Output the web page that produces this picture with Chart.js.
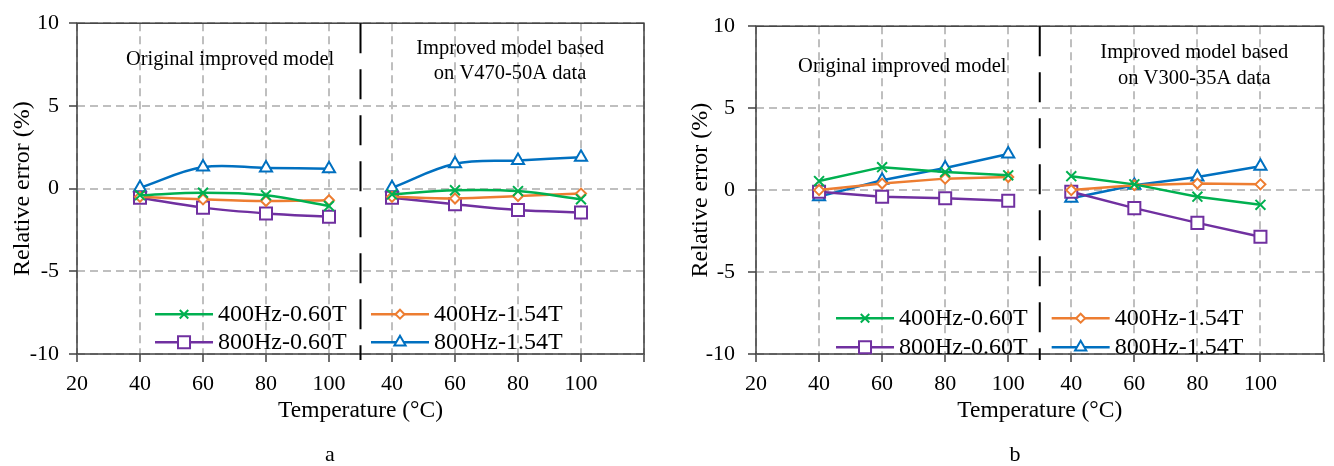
<!DOCTYPE html>
<html>
<head>
<meta charset="utf-8">
<script src="https://cdn.jsdelivr.net/npm/chart.js@4.4.0/dist/chart.umd.min.js"></script>
<style>
  html, body { margin: 0; padding: 0; background: #fff; }
  #wrap { position: relative; width: 1334px; height: 466px; }
  canvas { position: absolute; top: 0; }
</style>
</head>
<body>
<div id="wrap">
  <canvas id="chartA" width="667" height="466" style="left:0"></canvas>
  <canvas id="chartB" width="667" height="466" style="left:667px"></canvas>
</div>
<script>
// temperatures (°C) measured in each half of the plots
var temps = [40, 60, 80, 100];
var seriesLabels = ['400Hz-0.60T', '400Hz-1.54T', '800Hz-0.60T', '800Hz-1.54T'];
var xTickLabels = ['20', '40', '60', '80', '100', '40', '60', '80', '100', ''];

// chart a - original improved model
var aOrig400_060 = [-0.4, -0.25, -0.4, -1.05];
var aOrig400_154 = [-0.5, -0.65, -0.75, -0.7];
var aOrig800_060 = [-0.55, -1.15, -1.5, -1.7];
var aOrig800_154 = [0.05, 1.3, 1.25, 1.2];
// chart a - improved model based on V470-50A data
var aImpr400_060 = [-0.35, -0.1, -0.15, -0.65];
var aImpr400_154 = [-0.5, -0.6, -0.45, -0.3];
var aImpr800_060 = [-0.55, -0.95, -1.3, -1.45];
var aImpr800_154 = [0.05, 1.5, 1.7, 1.9];

// chart b - original improved model
var bOrig400_060 = [0.55, 1.4, 1.1, 0.9];
var bOrig400_154 = [0.0, 0.4, 0.7, 0.8];
var bOrig800_060 = [-0.1, -0.4, -0.5, -0.65];
var bOrig800_154 = [-0.4, 0.6, 1.35, 2.2];
// chart b - improved model based on V300-35A data
var bImpr400_060 = [0.85, 0.35, -0.4, -0.9];
var bImpr400_154 = [0.0, 0.3, 0.4, 0.35];
var bImpr800_060 = [-0.1, -1.1, -2.0, -2.85];
var bImpr800_154 = [-0.5, 0.3, 0.8, 1.45];

var colors = ['#00b050', '#ed7d31', '#7030a0', '#0070c0'];
var markers = ['crossRot', 'rectRot', 'rect', 'triangle'];
var markerSizes = [7, 5, 8.5, 7];
var legendMarkerSizes = [6, 4.5, 8.5, 6.5];

var serif = "'Liberation Serif', 'Times New Roman', serif";
Chart.defaults.font.family = serif;
Chart.defaults.color = '#000';

// left half at its temperature, right half shifted by 80 so 40 -> 120
function buildPoints(orig, impr) {
    var pts = temps.map(function(t, i) { return { x: t, y: orig[i] }; });
    pts.push({ x: 110, y: null });
    temps.forEach(function(t, i) { pts.push({ x: t + 80, y: impr[i] }); });
    return pts;
}

var decorPlugin = {
    id: 'decor',
    beforeDatasetsDraw: function(chart, args, opts) {
        var ctx = chart.ctx, a = chart.chartArea;
        var xs = chart.scales.x, ys = chart.scales.y;
        ctx.save();
        // frame
        ctx.strokeStyle = '#404040';
        ctx.lineWidth = 1.5;
        ctx.strokeRect(a.left, a.top, a.right - a.left, a.bottom - a.top);
        // separator between the two models
        var sx = xs.getPixelForValue(110);
        ctx.strokeStyle = '#000';
        ctx.lineWidth = 2;
        ctx.setLineDash([30, 16]);
        ctx.beginPath();
        ctx.moveTo(sx, a.top);
        ctx.lineTo(sx, a.bottom + 6);
        ctx.stroke();
        ctx.setLineDash([]);
        // notes
        ctx.fillStyle = '#000';
        ctx.font = '20.5px ' + serif;
        ctx.textAlign = 'center';
        ctx.textBaseline = 'middle';
        opts.notes.forEach(function(n) {
            ctx.fillText(n.text, xs.getPixelForValue(n.x), ys.getPixelForValue(n.y));
        });
        // panel letter
        ctx.font = '22px ' + serif;
        ctx.fillText(opts.letter, opts.letterX, 455);
        ctx.restore();
    },
    afterDatasetsDraw: function(chart, args, opts) {
        var ctx = chart.ctx, a = chart.chartArea;
        var w = a.right - a.left;
        ctx.save();
        ctx.font = '24px ' + serif;
        ctx.textBaseline = 'middle';
        ctx.textAlign = 'left';
        chart.data.datasets.forEach(function(ds, i) {
            var x0 = a.left + w * opts.legendCols[i % 2];
            var y = a.top + opts.legendRows[Math.floor(i / 2)];
            ctx.strokeStyle = ds.borderColor;
            ctx.lineWidth = 2.5;
            ctx.beginPath();
            ctx.moveTo(x0, y);
            ctx.lineTo(x0 + 58, y);
            ctx.stroke();
            ctx.fillStyle = '#fff';
            ctx.lineWidth = 2;
            Chart.helpers.drawPoint(ctx, {
                pointStyle: ds.pointStyle, radius: legendMarkerSizes[i],
                borderWidth: 2, rotation: 0
            }, x0 + 29, y);
            ctx.fillStyle = '#000';
            ctx.fillText(ds.label, x0 + 63, y + 1);
        });
        ctx.restore();
    }
};

function makeChart(id, series, cfg) {
    var datasets = series.map(function(s, i) {
        return {
            label: seriesLabels[i],
            data: buildPoints(s[0], s[1]),
            borderColor: colors[i],
            backgroundColor: colors[i],
            borderWidth: 2.5,
            pointStyle: markers[i],
            pointRadius: markerSizes[i],
            pointBorderWidth: 2,
            pointBackgroundColor: '#fff',
            pointBorderColor: colors[i],
            tension: cfg.tension,
            spanGaps: false
        };
    });
    return new Chart(document.getElementById(id), {
        type: 'line',
        data: { datasets: datasets },
        options: {
            responsive: false,
            animation: false,
            devicePixelRatio: 1,
            layout: { padding: { top: 21, right: cfg.padRight, bottom: 41, left: 0 } },
            scales: {
                x: {
                    type: 'linear',
                    min: 20, max: 200,
                    afterFit: function(s) { s.height = 71; },
                    ticks: {
                        stepSize: 20,
                        padding: 9,
                        font: { size: 22 },
                        color: '#000',
                        callback: function(v, i) { return xTickLabels[i]; }
                    },
                    grid: {
                        color: '#bfbfbf', lineWidth: 2,
                        tickColor: '#404040', tickWidth: 1.5, tickLength: 8, tickBorderDash: []
                    },
                    border: { display: false, dash: [8, 5] },
                    title: {
                        display: true, text: 'Temperature (°C)',
                        font: { size: 23.5 }, color: '#000', padding: { top: 0, bottom: 0 }
                    }
                },
                y: {
                    min: -10, max: 10,
                    afterFit: function(s) { s.width = cfg.yWidth; },
                    ticks: { stepSize: 5, padding: cfg.yPad, font: { size: 22 }, color: '#000' },
                    grid: {
                        color: '#bfbfbf', lineWidth: 2,
                        tickColor: '#404040', tickWidth: 1.5, tickLength: 8, tickBorderDash: []
                    },
                    border: { display: false, dash: [8, 5] },
                    title: {
                        display: true, text: 'Relative error (%)',
                        font: { size: 24 }, color: '#000', padding: { top: cfg.yTitlePad, bottom: 0 }
                    }
                }
            },
            plugins: {
                legend: { display: false },
                tooltip: { enabled: false },
                decor: cfg.decor
            }
        },
        plugins: [decorPlugin]
    });
}

makeChart('chartA', [
    [aOrig400_060, aImpr400_060],
    [aOrig400_154, aImpr400_154],
    [aOrig800_060, aImpr800_060],
    [aOrig800_154, aImpr800_154]
], {
    tension: 0.35, padRight: 23, yWidth: 77, yPad: 10, yTitlePad: 8,
    decor: {
        notes: [
            { text: 'Original improved model', x: 68.6, y: 7.8 },
            { text: 'Improved model based', x: 157.5, y: 8.45 },
            { text: 'on V470-50A data', x: 157.5, y: 6.95 }
        ],
        legendCols: [0.1376, 0.5185],
        legendRows: [291, 319],
        letter: 'a', letterX: 330
    }
});

makeChart('chartB', [
    [bOrig400_060, bImpr400_060],
    [bOrig400_154, bImpr400_154],
    [bOrig800_060, bImpr800_060],
    [bOrig800_154, bImpr800_154]
], {
    tension: 0, padRight: 4, yWidth: 89, yPad: 13, yTitlePad: 19,
    decor: {
        notes: [
            { text: 'Original improved model', x: 66.4, y: 7.55 },
            { text: 'Improved model based', x: 159, y: 8.4 },
            { text: 'on V300-35A data', x: 159, y: 6.8 }
        ],
        legendCols: [0.141, 0.521],
        legendRows: [292, 321],
        letter: 'b', letterX: 348
    }
});
</script>
</body>
</html>
